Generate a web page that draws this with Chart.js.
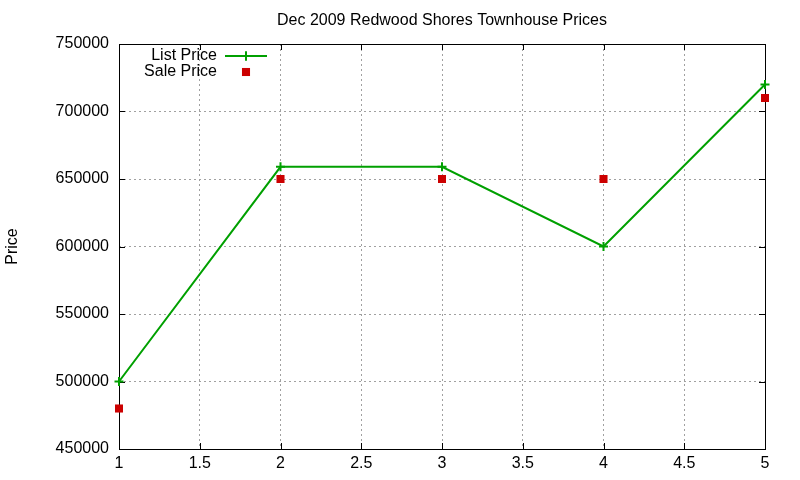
<!DOCTYPE html>
<html>
<head>
<meta charset="utf-8">
<script src="https://cdn.jsdelivr.net/npm/chart.js@4/dist/chart.umd.min.js"></script>
<style>
html,body{margin:0;padding:0;background:#fff;}
#c{display:block;}
</style>
</head>
<body>
<canvas id="c" width="800" height="480"></canvas>
<script>
const chartTitle = 'Dec 2009 Redwood Shores Townhouse Prices';
const yAxisTitle = 'Price';
const xValues = [1, 2, 3, 4, 5];
const listPrice = [500000, 659000, 659000, 600000, 720000];
const salePrice = [480000, 650000, 650000, 650000, 710000];
const seriesLabels = ['List Price', 'Sale Price'];

const FONT = '"Liberation Sans", Arial, sans-serif';
const GREEN = '#00a000';
const RED = '#cc0000';

const boxPlugin = {
  id: 'gnuBox',
  beforeDatasetsDraw(chart) {
    const {ctx, chartArea: a, scales} = chart;
    ctx.save();
    ctx.strokeStyle = '#000';
    ctx.lineWidth = 1;
    ctx.setLineDash([]);
    ctx.beginPath();
    const T = 6;
    scales.x.ticks.forEach(t => {
      const px = Math.round(scales.x.getPixelForValue(t.value)) + 0.5;
      ctx.moveTo(px, a.bottom); ctx.lineTo(px, a.bottom - T);
      ctx.moveTo(px, a.top); ctx.lineTo(px, a.top + T);
    });
    scales.y.ticks.forEach(t => {
      const py = Math.round(scales.y.getPixelForValue(t.value)) + 0.5;
      ctx.moveTo(a.left, py); ctx.lineTo(a.left + T, py);
      ctx.moveTo(a.right, py); ctx.lineTo(a.right - T, py);
    });
    ctx.stroke();
    ctx.strokeRect(Math.round(a.left) + 0.5, Math.round(a.top) + 0.5,
                   Math.round(a.right - a.left), Math.round(a.bottom - a.top));
    ctx.restore();
  },
  afterDatasetsDraw(chart) {
    const {ctx} = chart;
    ctx.save();
    ctx.font = '16px ' + FONT;
    ctx.textAlign = 'right';
    ctx.textBaseline = 'middle';
    ctx.fillStyle = '#000';
    const textRight = 217, sampleX = 246;
    const rows = [56, 72];
    chart.data.datasets.forEach((ds, i) => {
      const y = rows[i];
      ctx.fillText(ds.label, textRight, y);
      if (ds.showLine !== false) {
        ctx.strokeStyle = ds.borderColor;
        ctx.lineWidth = ds.borderWidth;
        ctx.beginPath();
        ctx.moveTo(225, y); ctx.lineTo(267, y);
        ctx.stroke();
      }
      Chart.helpers.drawPoint(ctx, {
        pointStyle: ds.pointStyle, radius: ds.pointRadius, rotation: 0,
        borderWidth: ds.pointBorderWidth
      }, sampleX, y);
      ctx.fillStyle = ds.pointBackgroundColor;
      ctx.strokeStyle = ds.pointBorderColor;
      ctx.lineWidth = ds.pointBorderWidth;
      ctx.beginPath();
      if (ds.pointStyle === 'rect') {
        const s = Math.SQRT1_2 * ds.pointRadius;
        ctx.fillRect(sampleX - s, y - s, 2 * s, 2 * s);
      } else {
        ctx.moveTo(sampleX - ds.pointRadius, y); ctx.lineTo(sampleX + ds.pointRadius, y);
        ctx.moveTo(sampleX, y - ds.pointRadius); ctx.lineTo(sampleX, y + ds.pointRadius);
        ctx.stroke();
      }
      ctx.fillStyle = '#000';
    });
    ctx.restore();
  }
};

new Chart(document.getElementById('c'), {
  type: 'scatter',
  data: {
    datasets: [
      {
        label: seriesLabels[0],
        data: xValues.map((x, i) => ({x, y: listPrice[i]})),
        showLine: true,
        tension: 0,
        borderColor: GREEN,
        borderWidth: 2,
        pointStyle: 'cross',
        pointRadius: 4.5,
        pointBorderWidth: 2,
        pointBorderColor: GREEN,
        pointBackgroundColor: GREEN,
        clip: false
      },
      {
        label: seriesLabels[1],
        data: xValues.map((x, i) => ({x, y: salePrice[i]})),
        showLine: false,
        pointStyle: 'rect',
        pointRadius: 5.7,
        pointBorderWidth: 0,
        pointBorderColor: RED,
        pointBackgroundColor: RED,
        clip: false
      }
    ]
  },
  options: {
    responsive: false,
    animation: false,
    devicePixelRatio: 1,
    layout: {padding: {left: 0, right: 35, top: 0, bottom: 0}},
    plugins: {
      legend: {display: false},
      tooltip: {enabled: false},
      title: {
        display: true,
        text: chartTitle,
        fullSize: false,
        color: '#000',
        font: {family: FONT, size: 16, weight: 'normal'},
        padding: {top: 11, bottom: 13.8}
      }
    },
    scales: {
      x: {
        type: 'linear',
        min: 1, max: 5,
        ticks: {
          stepSize: 0.5,
          color: '#000',
          padding: 5,
          maxRotation: 0,
          font: {family: FONT, size: 16},
          callback: v => String(v)
        },
        grid: {color: '#a0a0a0', lineWidth: 1, drawTicks: false, tickLength: 0},
        border: {display: false, dash: [2, 3]},
        afterFit: s => { s.height = 31; }
      },
      y: {
        type: 'linear',
        min: 450000, max: 750000,
        title: {
          display: true,
          text: yAxisTitle,
          color: '#000',
          font: {family: FONT, size: 16},
          padding: {top: 3, bottom: 0}
        },
        ticks: {
          stepSize: 50000,
          color: '#000',
          padding: 10,
          font: {family: FONT, size: 16},
          callback: v => String(v)
        },
        grid: {color: '#a0a0a0', lineWidth: 1, drawTicks: false, tickLength: 0},
        border: {display: false, dash: [2, 3]},
        afterFit: s => { s.width = 119; }
      }
    }
  },
  plugins: [boxPlugin]
});
</script>
</body>
</html>
